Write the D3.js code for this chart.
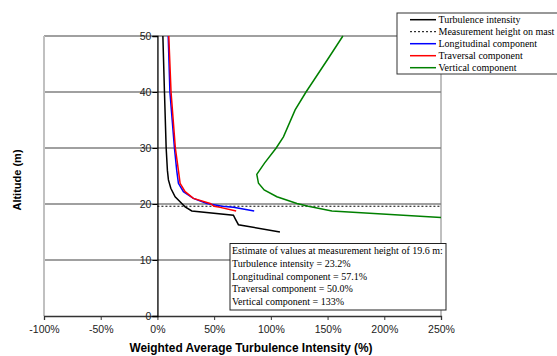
<!DOCTYPE html>
<html>
<head>
<meta charset="utf-8">
<script src="https://cdn.jsdelivr.net/npm/d3@7"></script>
<style>
  body { margin: 0; background: #fff; }
  svg { display: block; }
</style>
</head>
<body>
<div class="chart"></div>
<script>
// values: [intensity %, altitude m]
const turbulence = [[4.8, 50], [6.2, 40], [7.7, 30], [8.8, 26], [9.7, 24.3], [11.8, 22.8], [15.6, 21.3],
  [21.5, 20.1], [24.4, 19.5], [30.3, 18.75], [67, 18.0], [68.5, 17.4], [71.4, 16.3], [108, 15.0]];
const longitudinal = [[9.5, 50], [11.0, 40], [15.0, 30], [17.0, 26], [18.5, 23.7], [22.9, 22.2], [31.7, 21.0],
  [43.6, 20.1], [57.1, 19.6], [67, 19.4], [85.3, 18.75]];
const traversal = [[10, 50], [12, 40], [15.8, 30], [18.5, 26], [20, 23.7], [24.4, 22.2], [31.7, 21.0],
  [46.5, 20.1], [50, 19.6], [55.3, 19.4], [69.4, 18.75]];
const vertical = [[163.5, 50], [150, 45.8], [131, 40], [121.4, 36.8], [111.1, 32], [104.7, 30], [94.4, 27.3],
  [87.6, 25.3], [89.1, 23.7], [94.1, 22.5], [105.3, 21.3], [123, 20.1], [133, 19.6], [153.8, 18.75], [250, 17.6]];
const measurementHeight = 19.6;
const xTicks = [-100, -50, 0, 50, 100, 150, 200, 250];
const yTicks = [0, 10, 20, 30, 40, 50];
const legendNames = ['Turbulence intensity', 'Measurement height on mast', 'Longitudinal component',
  'Traversal component', 'Vertical component'];
const noteLines = ['Estimate of values at measurement height of 19.6 m:', 'Turbulence intensity = 23.2%',
  'Longitudinal component = 57.1%', 'Traversal component = 50.0%', 'Vertical component = 133%'];

const width = 557, height = 356;
const svg = d3.select('.chart').append('svg').attr('width', width).attr('height', height);

const x = d3.scaleLinear().domain([-100, 250]).range([44, 441]);
const y = d3.scaleLinear().domain([0, 50]).range([316, 36]);

// grid lines
svg.append('g').selectAll('line').data(yTicks.filter(d => d > 0))
  .join('line')
  .attr('x1', x(-100)).attr('x2', x(250))
  .attr('y1', d => y(d)).attr('y2', d => y(d))
  .attr('stroke', '#808080').attr('stroke-width', 1.6);

// frame
svg.append('line').attr('x1', x(-100)).attr('x2', x(-100)).attr('y1', y(50)).attr('y2', y(0))
  .attr('stroke', '#c0c0c0').attr('stroke-width', 2);
svg.append('line').attr('x1', x(250)).attr('x2', x(250)).attr('y1', y(50)).attr('y2', y(0))
  .attr('stroke', '#808080').attr('stroke-width', 1);

// x axis
const xAxis = svg.append('g')
  .attr('transform', `translate(0,${y(0)})`)
  .call(d3.axisBottom(x).tickValues(xTicks).tickFormat(d => d + '%').tickSize(4).tickPadding(6));
xAxis.select('.domain').attr('stroke', '#333').attr('stroke-width', 1.3);
xAxis.selectAll('.tick line').attr('stroke', '#333');
xAxis.selectAll('text').attr('font-family', 'Arial, "Liberation Sans", sans-serif').attr('font-size', 10.5).attr('fill', '#222');

// y axis at 0%
const yAxis = svg.append('g')
  .attr('transform', `translate(${x(0)},0)`)
  .call(d3.axisLeft(y).tickValues(yTicks).tickSize(5).tickPadding(1));
yAxis.select('.domain').attr('stroke', '#000').attr('stroke-width', 1.3);
yAxis.selectAll('.tick line').attr('stroke', '#000');
yAxis.selectAll('text').attr('font-family', 'Arial, "Liberation Sans", sans-serif').attr('font-size', 10.5).attr('fill', '#222');

// measurement height
svg.append('line')
  .attr('x1', x(0)).attr('x2', x(250))
  .attr('y1', y(measurementHeight)).attr('y2', y(measurementHeight))
  .attr('stroke', '#000').attr('stroke-width', 1).attr('stroke-dasharray', '2,2');

// curves
const line = d3.line().x(d => x(d[0])).y(d => y(d[1]));
const series = [
  {data: turbulence, color: '#000000'},
  {data: longitudinal, color: '#0000ff'},
  {data: traversal, color: '#ff0000'},
  {data: vertical, color: '#008000'}
];
svg.append('g').selectAll('path').data(series)
  .join('path')
  .attr('d', d => line(d.data))
  .attr('fill', 'none')
  .attr('stroke', d => d.color)
  .attr('stroke-width', 1.5);

// axis titles
svg.append('text')
  .attr('x', 251).attr('y', 352)
  .attr('text-anchor', 'middle')
  .attr('font-family', 'Arial, "Liberation Sans", sans-serif').attr('font-weight', 'bold').attr('font-size', 11.9)
  .text('Weighted Average Turbulence Intensity (%)');
svg.append('text')
  .attr('transform', 'translate(20.5,180) rotate(-90)')
  .attr('text-anchor', 'middle')
  .attr('font-family', 'Arial, "Liberation Sans", sans-serif').attr('font-weight', 'bold').attr('font-size', 11)
  .text('Altitude (m)');

// legend
const legend = svg.append('g');
legend.append('rect')
  .attr('x', 397).attr('y', 13).attr('width', 170).attr('height', 61)
  .attr('fill', '#fff').attr('stroke', '#333').attr('stroke-width', 1);
const legendColors = ['#000000', '#000000', '#0000ff', '#ff0000', '#008000'];
const rows = legend.selectAll('g.row').data(legendNames)
  .join('g').attr('class', 'row')
  .attr('transform', (d, i) => `translate(0,${19.7 + i * 12})`);
rows.append('line')
  .attr('x1', 410).attr('x2', 436)
  .attr('stroke', (d, i) => legendColors[i])
  .attr('stroke-width', (d, i) => i === 1 ? 1 : 1.5)
  .attr('stroke-dasharray', (d, i) => i === 1 ? '2,2' : null);
rows.append('text')
  .attr('x', 438.5).attr('dy', '0.33em')
  .attr('font-family', '"Times New Roman", "Liberation Serif", serif').attr('font-size', 10)
  .text(d => d);

// note box
const note = svg.append('g');
note.append('rect')
  .attr('x', 230).attr('y', 243.5).attr('width', 216).attr('height', 66.5)
  .attr('fill', '#fff').attr('stroke', '#222').attr('stroke-width', 1);
note.selectAll('text').data(noteLines)
  .join('text')
  .attr('x', 232).attr('y', (d, i) => 250.7 + i * 12.8).attr('dy', '0.33em')
  .attr('font-family', '"Times New Roman", "Liberation Serif", serif').attr('font-size', 10)
  .text(d => d);
</script>
</body>
</html>
